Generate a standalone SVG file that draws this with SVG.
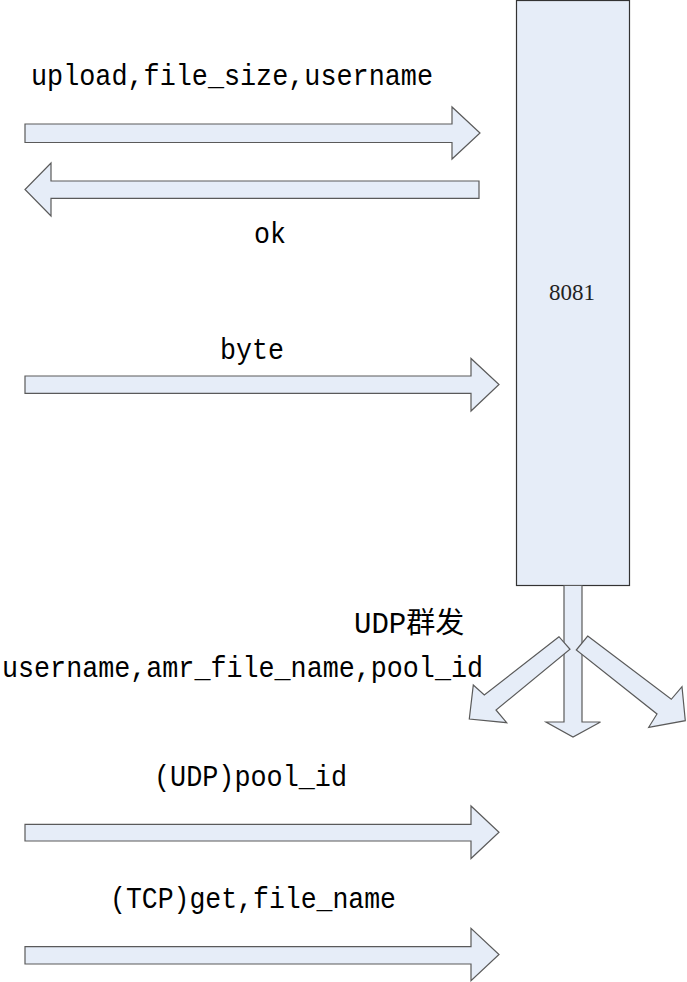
<svg xmlns="http://www.w3.org/2000/svg" width="687" height="982" viewBox="0 0 687 982">
  <style>
    .arrow { fill: #e6edf8; stroke: #5a5a5a; stroke-width: 1.2; stroke-linejoin: miter; }
    .box { fill: #e6edf8; stroke: #333333; stroke-width: 1.2; }
    .lbl { font-family: "Liberation Mono", "Noto Sans CJK SC", monospace; font-size: 30px; fill: #000000; }
    .num { font-family: "Liberation Serif", serif; font-size: 23px; fill: #222222; }
  </style>
  <rect width="687" height="982" fill="#ffffff"/>

  <g id="node-8081">
    <rect class="box" x="516.5" y="0.5" width="113" height="585"/>
    <text class="num" x="572" y="300" text-anchor="middle">8081</text>
  </g>

  <g id="connectors">
    <polygon class="arrow" points="25,124 452,124 452,107 480,133 452,159 452,142.5 25,142.5"/>
    <polygon class="arrow" points="479,181 51,181 51,163 25,189.5 51,216 51,198.3 479,198.3"/>
    <polygon class="arrow" points="25,376 471,376 471,358.5 499,384.5 471,411 471,393.3 25,393.3"/>
    <polygon class="arrow" points="564,585.5 582,585.5 582,722 600.5,722 573,737 546,722 564,722"/>
    <polygon class="arrow" points="559,636.7 484.3,695 473.3,685 469.3,719 506.7,722.7 496,710 570,649.3"/>
    <polygon class="arrow" points="587.7,636 671.3,699.3 682,686.7 685.3,720.7 648.7,727.3 657,714 576.3,650"/>
    <polygon class="arrow" points="25,824.3 471,824.3 471,806 499,832.3 471,858.5 471,841 25,841"/>
    <polygon class="arrow" points="25,946.7 471,946.7 471,928.3 499,954.5 471,980.7 471,964 25,964"/>
  </g>

  <g id="labels">
    <text class="lbl" x="31" y="85" textLength="402" lengthAdjust="spacingAndGlyphs">upload,file_size,username</text>
    <text class="lbl" x="254" y="243" textLength="32" lengthAdjust="spacingAndGlyphs">ok</text>
    <text class="lbl" x="220" y="359" textLength="64" lengthAdjust="spacingAndGlyphs">byte</text>
    <text class="lbl" x="354" y="633" style="font-size:29px">UDP群发</text>
    <text class="lbl" x="2" y="677" textLength="481" lengthAdjust="spacingAndGlyphs">username,amr_file_name,pool_id</text>
    <text class="lbl" x="154" y="786" textLength="193" lengthAdjust="spacingAndGlyphs">(UDP)pool_id</text>
    <text class="lbl" x="110" y="908" textLength="286" lengthAdjust="spacingAndGlyphs">(TCP)get,file_name</text>
  </g>
</svg>
